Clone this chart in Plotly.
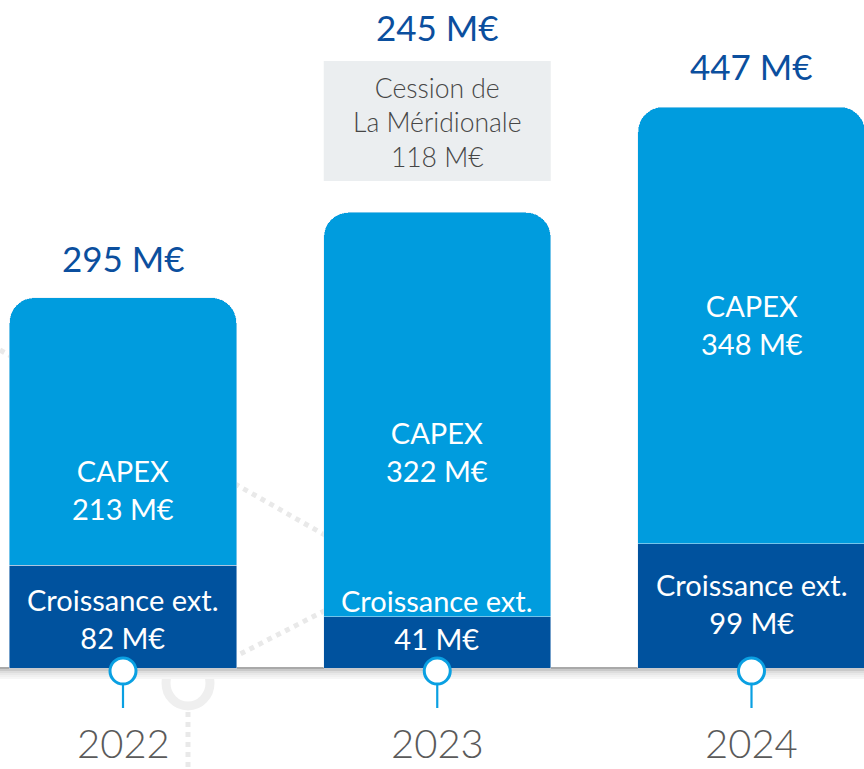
import plotly.graph_objects as go

# ---- data ----
years = ["2022", "2023", "2024"]
capex = [213, 322, 348]
croissance_ext = [82, 41, 99]
totals = [295, 245, 447]
cession_label = "Cession de<br>La Méridionale<br>118 M€"

# ---- style ----
LIGHT = "#009CDE"
DARK = "#00529E"
NAVY = "#0B4F9E"
FONT = "Lato"
PX_PER_UNIT = 1.255
BASE_PX = 668
H = 769
W = 864


def py2d(py):
    return (BASE_PX - py) / PX_PER_UNIT


bar_w = 0.7224

fig = go.Figure()
fig.add_trace(go.Bar(x=years, y=croissance_ext, marker_color=DARK, width=bar_w,
                     name="Croissance ext.", hoverinfo="skip"))
fig.add_trace(go.Bar(x=years, y=capex, marker_color=LIGHT, width=bar_w,
                     name="CAPEX", hoverinfo="skip"))

# stems + circles below bars
stem_x, stem_y = [], []
for yr in years:
    stem_x += [yr, yr, None]
    stem_y += [py2d(680), py2d(708), None]
fig.add_trace(go.Scatter(x=stem_x, y=stem_y, mode="lines",
                         line=dict(color="#0AA0E2", width=2.2), hoverinfo="skip",
                         showlegend=False))
fig.add_trace(go.Scatter(x=years, y=[py2d(671)] * 3, mode="markers",
                         marker=dict(symbol="circle", size=26, color="white",
                                     line=dict(color="#0AA0E2", width=3)),
                         hoverinfo="skip", showlegend=False))

ann = []
# totals above bars
total_py = [258, 27, 66]
for i, (t, p) in enumerate(zip(totals, total_py)):
    ann.append(dict(x=i, y=py2d(p), text=f"{t} M€", showarrow=False,
                    font=dict(family=FONT, size=35, color=NAVY), yanchor="middle"))

# capex labels
capex_py = [489, 451, 324]
for i, (v, p) in enumerate(zip(capex, capex_py)):
    ann.append(dict(x=i, y=py2d(p), text=f"CAPEX<br>{v} M€", showarrow=False,
                    font=dict(family=FONT, size=29, color="white"), yanchor="middle"))

# croissance labels
ext_py = [618, 619, 603.5]
for i, (v, p) in enumerate(zip(croissance_ext, ext_py)):
    ann.append(dict(x=i, y=py2d(p), text=f"Croissance ext.<br>{v} M€", showarrow=False,
                    font=dict(family=FONT, size=29, color="white"), yanchor="middle"))

# cession box text
ann.append(dict(x=1, y=py2d(122), text=cession_label, showarrow=False,
                font=dict(family=FONT, size=26.5, color="#464646", weight=300),
                yanchor="middle"))

# year labels
for i, yr in enumerate(years):
    ann.append(dict(x=i, y=py2d(743), text=yr, showarrow=False,
                    font=dict(family=FONT, size=40, color="#5A5A5A", weight=300),
                    yanchor="middle"))

shapes = []
# faint background decoration
deco = "#E9E9E9"
shapes.append(dict(type="line", xref="paper", yref="paper", x0=0, y0=1 - 350 / H,
                   x1=330 / W, y1=1 - 538 / H, line=dict(color=deco, width=5, dash="dot"),
                   layer="below"))
shapes.append(dict(type="line", xref="paper", yref="paper", x0=205 / W, y0=1 - 672 / H,
                   x1=330 / W, y1=1 - 608 / H, line=dict(color=deco, width=5, dash="dot"),
                   layer="below"))
shapes.append(dict(type="line", xref="paper", yref="paper", x0=188 / W, y0=1 - 712 / H,
                   x1=188 / W, y1=0, line=dict(color=deco, width=5, dash="dot"),
                   layer="below"))
shapes.append(dict(type="circle", xref="paper", yref="paper", x0=166 / W, y0=1 - 706 / H,
                   x1=210 / W, y1=1 - 660 / H, line=dict(color="#EFEFEF", width=9),
                   layer="below"))
# baseline with soft shadow
for i, c in enumerate(["#A9A9A9", "#C9C9C9", "#DDDDDD", "#E8E8E8", "#F0F0F0", "#F6F6F6"]):
    shapes.append(dict(type="line", xref="paper", yref="y", x0=0, x1=1,
                       y0=py2d(668 + i * 2), y1=py2d(668 + i * 2),
                       line=dict(color=c, width=2), layer="below"))
# cession box
shapes.append(dict(type="rect", xref="x", yref="y", x0=1 - bar_w / 2, x1=1 + bar_w / 2,
                   y0=py2d(181), y1=py2d(61), fillcolor="#EBEEF0", line=dict(width=0),
                   layer="below"))

fig.update_layout(
    width=W, height=H,
    margin=dict(l=0, r=0, t=0, b=0),
    paper_bgcolor="white", plot_bgcolor="white",
    barmode="stack", barcornerradius=25,
    showlegend=False,
    xaxis=dict(type="category", range=[-123 / 314.25, 2 + (W - 751.5) / 314.25],
               visible=False, fixedrange=True),
    yaxis=dict(range=[py2d(H), py2d(0)], visible=False, fixedrange=True),
    annotations=ann, shapes=shapes,
)

fig.write_html("out.html", config={"displayModeBar": False},
               post_script="document.body.style.margin='0';document.body.style.overflow='hidden';")
